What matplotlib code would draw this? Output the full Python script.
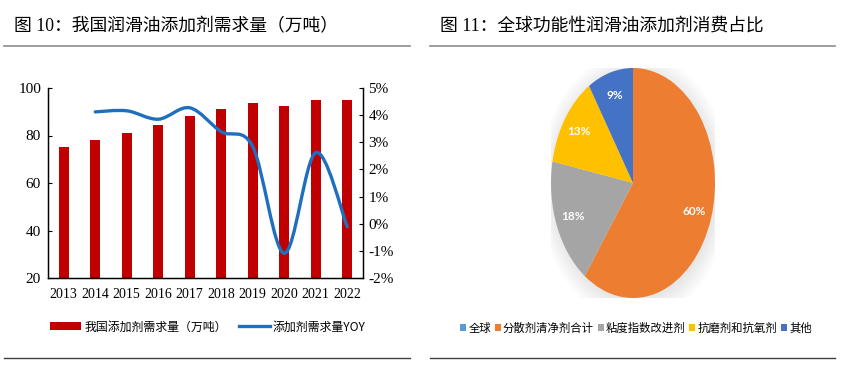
import numpy as np
import matplotlib
matplotlib.use("Agg")
import matplotlib.pyplot as plt
from matplotlib.patches import Patch, PathPatch, Ellipse
from matplotlib.lines import Line2D
from matplotlib.path import Path
from matplotlib.ticker import FuncFormatter

plt.rcParams['font.family'] = ['Noto Sans CJK SC', 'DejaVu Sans']

# ---- data: left chart ----
years = ['2013', '2014', '2015', '2016', '2017', '2018', '2019', '2020', '2021', '2022']
demand = [75.0, 78.0, 81.2, 84.4, 88.2, 91.2, 93.6, 92.6, 94.9, 94.9]
yoy_years = ['2014', '2015', '2016', '2017', '2018', '2019', '2020', '2021', '2022']
yoy = [4.12, 4.16, 3.85, 4.27, 3.39, 2.84, -1.09, 2.62, -0.11]

# ---- data: right chart ----
pie_labels = ['全球', '分散剂清净剂合计', '粘度指数改进剂', '抗磨剂和抗氧剂', '其他']
pie_values = [0, 60, 18, 13, 9]
pie_colors = ['#5B9BD5', '#ED7D31', '#A5A5A5', '#FFC000', '#4472C4']

W, H = 853, 368
fig = plt.figure(figsize=(W / 100, H / 100), dpi=100)
fig.patch.set_facecolor('white')

def fx(px):
    return px / W

def fy(py):
    return 1 - py / H

serif_cjk = ['Liberation Serif', 'Noto Sans CJK SC']

# titles and rules
fig.text(fx(14), fy(27), '图 10：我国润滑油添加剂需求量（万吨）', fontsize=12.8,
         family=serif_cjk, va='center', ha='left')
fig.text(fx(440), fy(26), '图 11：全球功能性润滑油添加剂消费占比', fontsize=12.8,
         family=serif_cjk, va='center', ha='left')
fig.add_artist(Line2D([fx(4), fx(410)], [fy(46), fy(46)], color='#8c8c8c', lw=1.2))
fig.add_artist(Line2D([fx(430), fx(835)], [fy(46), fy(46)], color='#8c8c8c', lw=1.2))
fig.add_artist(Line2D([fx(4), fx(410)], [fy(358), fy(358)], color='#404040', lw=1.0))
fig.add_artist(Line2D([fx(430), fx(835)], [fy(358), fy(358)], color='#404040', lw=1.0))

# ---- left: bars + yoy line ----
ax = fig.add_axes([fx(48), fy(278), (363 - 48) / W, (278 - 88) / H])
x = np.arange(len(years))
ax.bar(x, demand, width=0.32, color='#C00000', zorder=2)
ax.set_xlim(-0.5, len(years) - 0.5)
ax.set_ylim(20, 100)
ax.set_yticks([20, 40, 60, 80, 100])
ax.set_xticks(x)
ax.set_xticklabels(years)
ax.spines['top'].set_visible(False)
for s in ['left', 'right', 'bottom']:
    ax.spines[s].set_linewidth(1.0)
    ax.spines[s].set_color('black')
ax.tick_params(axis='x', length=0, pad=7)
ax.tick_params(axis='y', direction='in', length=3, pad=5)
for lab in ax.get_xticklabels():
    lab.set_family('Liberation Serif')
    lab.set_fontsize(10)
for lab in ax.get_yticklabels():
    lab.set_family('Liberation Serif')
    lab.set_fontsize(11)

ax2 = ax.twinx()
ax2.set_ylim(-2, 5)
ax2.set_yticks(range(-2, 6))
ax2.yaxis.set_major_formatter(FuncFormatter(lambda v, p: '%d%%' % v))
ax2.spines['top'].set_visible(False)
ax2.tick_params(axis='y', direction='in', length=3, pad=4)
for lab in ax2.get_yticklabels():
    lab.set_family('Liberation Serif')
    lab.set_fontsize(11)

# smoothed line through yoy points (bezier segments, like a smoothed office line)
px = np.array([years.index(y) for y in yoy_years], dtype=float)
py = np.array(yoy)
pts = np.column_stack([px, py])
n = len(pts)
verts = [pts[0]]
codes = [Path.MOVETO]
for i in range(n - 1):
    p0 = pts[i - 1] if i > 0 else pts[i]
    p1 = pts[i]
    p2 = pts[i + 1]
    p3 = pts[i + 2] if i + 2 < n else pts[i + 1]
    c1 = p1 + (p2 - p0) / 6.0
    c2 = p2 - (p3 - p1) / 6.0
    verts += [c1, c2, p2]
    codes += [Path.CURVE4] * 3
ax2.add_patch(PathPatch(Path(verts, codes), facecolor='none', edgecolor='#1F6FBF',
                        lw=2.4, zorder=3, capstyle='round'))

handles = [Patch(facecolor='#C00000'), Line2D([], [], color='#1F6FBF', lw=2.4)]
fig.legend(handles, ['我国添加剂需求量（万吨）', '添加剂需求量YOY'], ncol=2,
           loc='center', bbox_to_anchor=(fx(208), fy(327)), frameon=False,
           fontsize=8.6, handlelength=2.6, handleheight=0.6, columnspacing=1.0,
           handletextpad=0.25)

# ---- right: pie ----
pax = fig.add_axes([fx(551), fy(298), 164 / W, 230 / H])
pax.set_xlim(-1.0, 1.0)
pax.set_ylim(-1.0, 1.0)
pax.axis('off')

# soft shadow under the pie
for k in range(8):
    pax.add_patch(Ellipse((0.02, -0.03), 2.0 + 0.05 * k, 2.0 + 0.05 * k,
                          facecolor='#000000', alpha=0.012, lw=0, zorder=0))

wedges, texts, autotexts = pax.pie(
    pie_values, colors=pie_colors, startangle=90, counterclock=False,
    autopct=lambda p: '' if p < 0.5 else '%d%%' % round(p),
    pctdistance=0.79, radius=1.0, wedgeprops=dict(linewidth=0),
    textprops=dict(color='white', fontsize=8.5, family='Lato', weight='bold'))
pax.set_aspect('auto')
pax.set_xlim(-1.0, 1.0)
pax.set_ylim(-1.0, 1.0)

fig.legend(wedges, pie_labels, ncol=5, loc='center',
           bbox_to_anchor=(fx(636), fy(328)), frameon=False, fontsize=8.2,
           handlelength=0.5, handleheight=0.5, columnspacing=0.35,
           handletextpad=0.2)

fig.savefig('out.png', dpi=100)
